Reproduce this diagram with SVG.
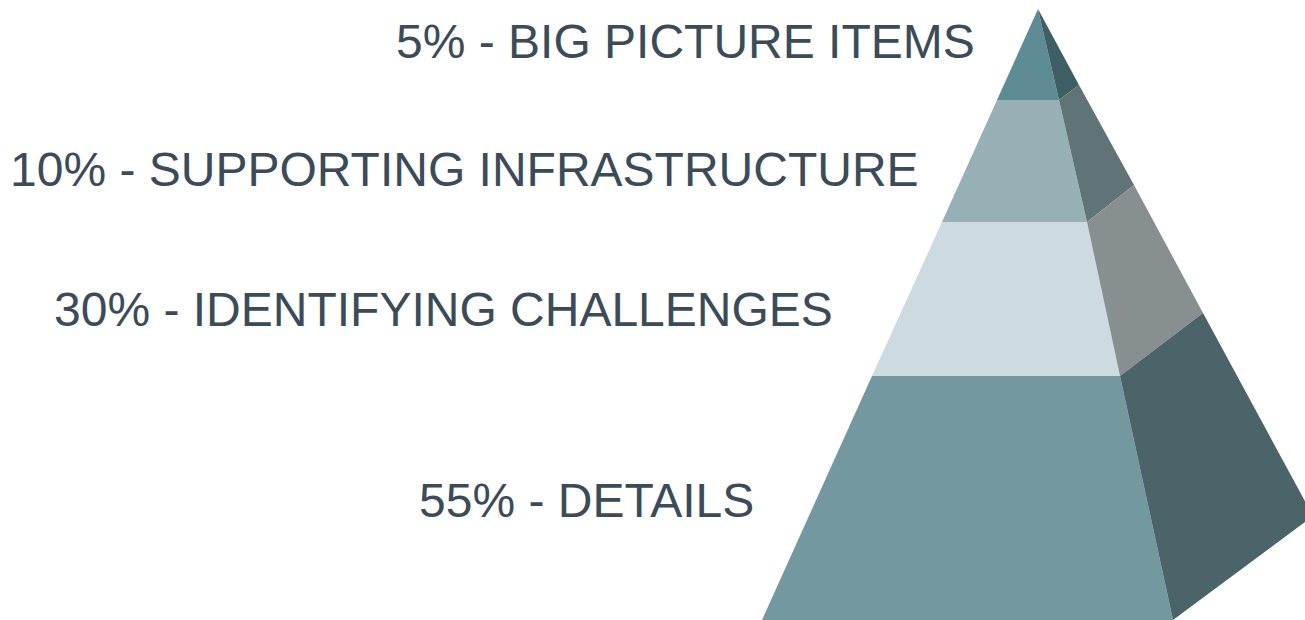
<svg xmlns="http://www.w3.org/2000/svg" width="1305" height="620" viewBox="0 0 1305 620">
  <style>
    .label { font-family: "Liberation Sans", Arial, Helvetica, sans-serif; font-size: 48px; fill: #3b4b59; }
  </style>
  <rect width="1305" height="620" fill="#ffffff"/>

  <!-- Pyramid: front face bands and right-hand side face bands -->
  <g id="level-top">
    <polygon points="1038,9 997,100 1059,100" fill="#5e8c95"/>
    <polygon points="1038,9 1059,100 1079,85" fill="#3d5e65"/>
  </g>
  <g id="level-2">
    <polygon points="997,100 1059,100 1087,222 942,222" fill="#97b0b5"/>
    <polygon points="1059,100 1079,85 1134,185 1087,222" fill="#607377"/>
  </g>
  <g id="level-3">
    <polygon points="942,222 1087,222 1120,376 872,376" fill="#cddadf"/>
    <polygon points="1087,222 1134,185 1203,313 1120,376" fill="#878f91"/>
  </g>
  <g id="level-bottom">
    <polygon points="872,376 1120,376 1173,620 762,620" fill="#73989f"/>
    <polygon points="1120,376 1203,313 1313,516 1173,620" fill="#4b6469"/>
  </g>

  <g id="labels">
    <text class="label" x="396" y="58">5% - BIG PICTURE ITEMS</text>
    <text class="label" x="10" y="186">10% - SUPPORTING INFRASTRUCTURE</text>
    <text class="label" x="54" y="326">30% - IDENTIFYING CHALLENGES</text>
    <text class="label" x="419" y="517">55% - DETAILS</text>
  </g>
</svg>
